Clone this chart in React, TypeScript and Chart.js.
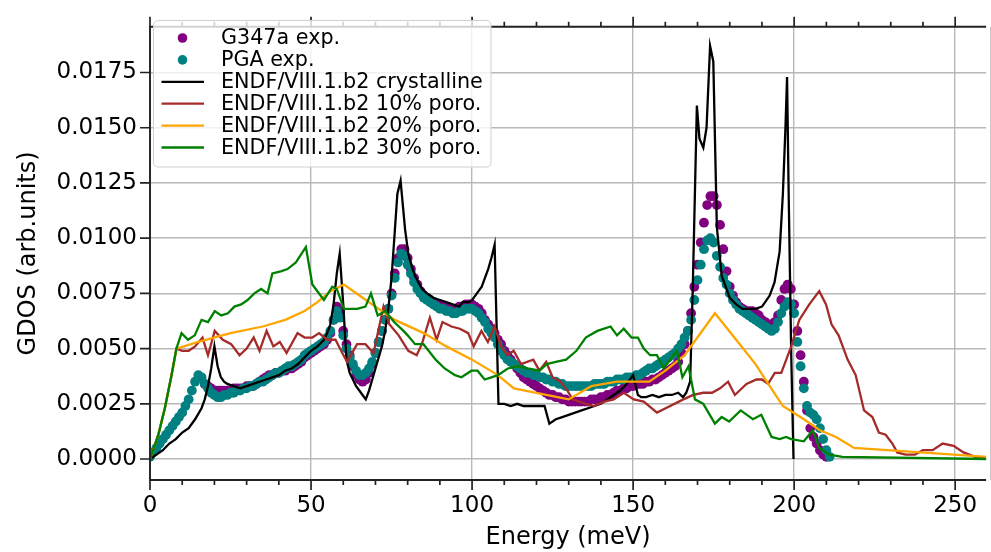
import React, { useEffect, useRef } from "react";
import { Chart, registerables } from "chart.js";

Chart.register(...registerables);

const FONT = "'DejaVu Sans', sans-serif";

// ---------------- data ----------------
const expEnergy = [
  0, 1, 2, 3, 4, 5, 6, 7, 8, 9,
  10, 11, 12, 13, 14, 15, 16, 17, 18, 19,
  20, 21, 22, 23, 24, 25, 26, 27, 28, 29,
  30, 31, 32, 33, 34, 35, 36, 37, 38, 39,
  40, 41, 42, 43, 44, 45, 46, 47, 48, 49,
  50, 51, 52, 53, 54, 55, 56, 57, 58, 59,
  60, 61, 62, 63, 64, 65, 66, 67, 68, 69,
  70, 71, 72, 73, 74, 75, 76, 77, 78, 79,
  80, 81, 82, 83, 84, 85, 86, 87, 88, 89,
  90, 91, 92, 93, 94, 95, 96, 97, 98, 99,
  100, 101, 102, 103, 104, 105, 106, 107, 108, 109,
  110, 111, 112, 113, 114, 115, 116, 117, 118, 119,
  120, 121, 122, 123, 124, 125, 126, 127, 128, 129,
  130, 131, 132, 133, 134, 135, 136, 137, 138, 139,
  140, 141, 142, 143, 144, 145, 146, 147, 148, 149,
  150, 151, 152, 153, 154, 155, 156, 157, 158, 159,
  160, 161, 162, 163, 164, 165, 166, 167, 168, 169,
  170, 171, 172, 173, 174, 175, 176, 177, 178, 179,
  180, 181, 182, 183, 184, 185, 186, 187, 188, 189,
  190, 191, 192, 193, 194, 195, 196, 197, 198, 199,
  200, 201, 202, 203, 204, 205, 206, 207, 208, 209,
  210, 211,
];

const g347aGdos = [
  null, null, null, null, null, null, null, null, null, null,
  null, null, null, null, null, null, null, 0.0034, 0.0033, 0.0032,
  0.0031, 0.0031, 0.0031, 0.0031, 0.0031, 0.0031, 0.0032, 0.0032, 0.0032, 0.0032,
  0.0033, 0.0033, 0.0033, 0.0034, 0.0035, 0.0036, 0.0037, 0.0038, 0.0038, 0.0039,
  0.0039, 0.004, 0.004, 0.0041, 0.0041, 0.0042, 0.0043, 0.0044, 0.0046, 0.0047,
  0.0048, 0.0049, 0.005, 0.0051, 0.0052, 0.0054, 0.0057, 0.0063, 0.0069, 0.0067,
  0.0058, 0.0052, 0.0047, 0.0042, 0.0038, 0.0036, 0.0035, 0.0036, 0.0039, 0.0043,
  0.0048, 0.0053, 0.0058, 0.0063, 0.0068, 0.0075, 0.0084, 0.0091, 0.0095, 0.0095,
  0.0091, 0.0086, 0.0082, 0.0079, 0.0076, 0.0074, 0.0073, 0.0072, 0.0071, 0.007,
  0.007, 0.0069, 0.0069, 0.0068, 0.0068, 0.0068, 0.0069, 0.0069, 0.007, 0.007,
  0.007, 0.0069, 0.0068, 0.0066, 0.0063, 0.0061, 0.0059, 0.0057, 0.0054, 0.0052,
  0.0049, 0.0047, 0.0045, 0.0043, 0.0041, 0.0039, 0.0037, 0.0036, 0.0035, 0.0034,
  0.0033, 0.0032, 0.0031, 0.003, 0.0029, 0.0029, 0.0028, 0.0028, 0.0027, 0.0027,
  0.0026, 0.0026, 0.0026, 0.0026, 0.0026, 0.0026, 0.0026, 0.0027, 0.0027, 0.0027,
  0.0028, 0.0028, 0.0029, 0.0029, 0.003, 0.0031, 0.0031, 0.0032, 0.0032, 0.0033,
  0.0033, 0.0034, 0.0034, 0.0034, 0.0035, 0.0035, 0.0036, 0.0036, 0.0037, 0.0038,
  0.0039, 0.004, 0.0041, 0.0042, 0.0044, 0.0048, 0.0052, 0.0058, 0.0066, 0.0078,
  0.0088, 0.0098, 0.0107, 0.0115, 0.0119, 0.0119, 0.0115, 0.0106, 0.0095, 0.0085,
  0.0078, 0.0074, 0.0071, 0.0069, 0.0068, 0.0067, 0.0067, 0.0067, 0.0066, 0.0065,
  0.0063, 0.0062, 0.0061, 0.0061, 0.0062, 0.0065, 0.0072, 0.0077, 0.0079, 0.0077,
  0.007, 0.0058, 0.0047, 0.0035, 0.0022, 0.0014, 0.001, 0.0007, 0.0004, 0.0002,
  0.0001, null,
];

const pgaGdos = [
  0.0001, 0.0003, 0.0005, 0.0007, 0.0009, 0.0011, 0.0013, 0.0015, 0.0017, 0.0019,
  0.0021, 0.0024, 0.0027, 0.0031, 0.0035, 0.0038, 0.0037, 0.0034, 0.0032, 0.003,
  0.0029, 0.0028, 0.0028, 0.0029, 0.0029, 0.003, 0.003, 0.0031, 0.0031, 0.0032,
  0.0032, 0.0033, 0.0033, 0.0034, 0.0035, 0.0035, 0.0036, 0.0037, 0.0038, 0.0039,
  0.0039, 0.004, 0.0041, 0.0042, 0.0042, 0.0043, 0.0044, 0.0045, 0.0047, 0.0048,
  0.0049, 0.005, 0.0051, 0.0052, 0.0053, 0.0055, 0.0058, 0.0063, 0.0067, 0.0064,
  0.0056, 0.005, 0.0046, 0.0043, 0.004, 0.0038, 0.0038, 0.0039, 0.0041, 0.0044,
  0.0048, 0.0053, 0.0058, 0.0063, 0.0068, 0.0074, 0.0082, 0.0089, 0.0093, 0.0092,
  0.0088, 0.0084, 0.008, 0.0077, 0.0075, 0.0073, 0.0072, 0.0071, 0.007, 0.0069,
  0.0068, 0.0068, 0.0067, 0.0067, 0.0066, 0.0066, 0.0067, 0.0067, 0.0068, 0.0068,
  0.0068, 0.0067, 0.0066, 0.0064, 0.0062, 0.0059, 0.0057, 0.0055, 0.0052, 0.0049,
  0.0047, 0.0045, 0.0044, 0.0043, 0.0042, 0.0041, 0.004, 0.0039, 0.0039, 0.0038,
  0.0038, 0.0037, 0.0037, 0.0036, 0.0036, 0.0035, 0.0035, 0.0034, 0.0034, 0.0033,
  0.0033, 0.0033, 0.0033, 0.0033, 0.0033, 0.0033, 0.0033, 0.0033, 0.0034, 0.0034,
  0.0034, 0.0034, 0.0035, 0.0035, 0.0035, 0.0036, 0.0036, 0.0036, 0.0037, 0.0037,
  0.0037, 0.0038, 0.0038, 0.0039, 0.004, 0.0041, 0.0041, 0.0042, 0.0043, 0.0044,
  0.0045, 0.0046, 0.0047, 0.0048, 0.005, 0.0052, 0.0055, 0.0058, 0.0063, 0.0072,
  0.0081, 0.0088, 0.0095, 0.0099, 0.01, 0.0098, 0.0092, 0.0087, 0.0082, 0.0079,
  0.0075, 0.0072, 0.007, 0.0068, 0.0067, 0.0066, 0.0065, 0.0064, 0.0063, 0.0062,
  0.0061, 0.006, 0.0059, 0.0058, 0.0059, 0.0062, 0.0066, 0.0069, 0.0071, 0.007,
  0.0066, 0.0053, 0.0042, 0.0032, 0.0024, 0.0021, 0.002, 0.0018, 0.0014, 0.0009,
  0.0004, 0.0001,
];

const crystEnergy = [
  0, 2, 4, 6, 8, 10, 12, 14, 16, 17, 18, 19, 20, 21, 22, 23, 24, 26, 28, 30,
  32, 34, 36, 38, 40, 42, 44, 46, 48, 50, 52, 54, 55, 56, 57, 58, 58.9, 60, 61, 62,
  64, 66, 67, 68, 70, 72, 73, 74, 75, 76, 76.8, 77.8, 79.2, 80.2, 81.3, 82.3, 83.3, 84.5, 86, 88,
  90, 92, 94, 96, 97, 99, 100, 101, 102, 103, 104, 105, 106, 107, 108.2, 110, 112, 114, 116, 118,
  120, 122.5, 124, 126, 128, 130, 132, 134, 136, 138, 140, 142, 144, 146, 148, 150, 151.5, 152.5, 154, 156,
  158, 160, 162, 164, 165.5, 166.5, 167.7, 168.5, 169.8, 170.6, 171.8, 172.8, 173.9, 174.9, 176, 177.5, 180, 182, 184, 186,
  188, 190, 191, 192.4, 193.9, 195.5, 196.5, 197.3, 197.8, 198.3, 199.1, 199.8,
];
const crystGdos = [
  0, 0.0002, 0.0004, 0.0007, 0.0009, 0.0012, 0.0014, 0.0018, 0.0023, 0.0027, 0.0033, 0.0041, 0.0051, 0.0042, 0.0037, 0.0035, 0.0034, 0.0033, 0.0032, 0.0033,
  0.0034, 0.0035, 0.0036, 0.0037, 0.0038, 0.004, 0.0041, 0.0043, 0.0046, 0.0049, 0.0051, 0.0054, 0.0057, 0.0061, 0.007, 0.0084, 0.0093, 0.007, 0.0045, 0.0039,
  0.0033, 0.0029, 0.0027, 0.0031, 0.0041, 0.0051, 0.0058, 0.0068, 0.0082, 0.0103, 0.012, 0.0126, 0.0104, 0.0093, 0.0087, 0.0083, 0.008, 0.0077, 0.0075, 0.0073,
  0.0072, 0.0071, 0.007, 0.0069, 0.0071, 0.0071, 0.0072, 0.0074, 0.0076, 0.0078, 0.0082, 0.0086, 0.0091, 0.0097, 0.0025, 0.0025, 0.0024, 0.0025, 0.0024, 0.0024,
  0.0024, 0.0024, 0.0016, 0.0018, 0.0019, 0.002, 0.0021, 0.0022, 0.0023, 0.0024, 0.0025, 0.0027, 0.0029, 0.0031, 0.0034, 0.0038, 0.0029, 0.0028, 0.0028, 0.0029,
  0.0028, 0.0029, 0.0029, 0.003, 0.0028, 0.003, 0.0035, 0.0076, 0.016, 0.0145, 0.0141, 0.015, 0.0187, 0.018, 0.0105, 0.0083, 0.0073, 0.007, 0.0068, 0.0068,
  0.0068, 0.0069, 0.0071, 0.0074, 0.008, 0.0094, 0.012, 0.015, 0.0173, 0.012, 0.0047, 0,
];

const poro10Energy = [
  0, 2.6, 4.6, 6.7, 8.2, 10, 12, 14, 16.3, 18, 20.1, 22.6, 25.2, 27.8, 30, 32.2, 34, 36.2, 38.3, 40.3,
  42.4, 45.8, 48, 50.4, 52.5, 55, 57.6, 59.7, 61.2, 63.5, 64.3, 66.9, 69.4, 72.5, 74.3, 77.2, 80.2, 82.8, 84.4, 86.9,
  89, 90.8, 93.6, 96.2, 98.8, 100.5, 102.9, 104.9, 107, 109, 111, 112.9, 115.2, 119, 120.9, 123, 125, 127.5, 129.6, 131.2,
  135.3, 137.9, 141, 144, 147.1, 150.2, 153.3, 157.4, 161.5, 165.6, 168.7, 171.8, 174.5, 177, 179.5, 181.6, 185.2, 188.3, 190, 191.9,
  194, 196, 199.1, 201.6, 204.7, 207.8, 209.9, 211.6, 213.8, 216.6, 219.1, 221.7, 224.3, 226.3, 228.4, 230.5, 232, 234.6, 237.5, 240,
  243, 246.1, 249.5, 252.6, 256.2, 260,
];
const poro10Gdos = [
  0, 0.0011, 0.0023, 0.0038, 0.005, 0.0049, 0.0049, 0.0051, 0.0055, 0.0047, 0.0058, 0.0054, 0.0052, 0.0047, 0.005, 0.0055, 0.0049, 0.0058, 0.0051, 0.0053,
  0.0048, 0.0057, 0.0055, 0.0055, 0.0057, 0.0054, 0.0054, 0.0048, 0.0044, 0.005, 0.0052, 0.0052, 0.0048, 0.0069, 0.0061, 0.0056, 0.0049, 0.0047, 0.0052, 0.0064,
  0.0054, 0.0062, 0.006, 0.0059, 0.0057, 0.0051, 0.0058, 0.0053, 0.006, 0.0051, 0.0047, 0.0049, 0.0043, 0.0045, 0.004, 0.0044, 0.0037, 0.0035, 0.0031, 0.0027,
  0.0025, 0.0024, 0.0026, 0.0027, 0.003, 0.0027, 0.0026, 0.0021, 0.0024, 0.0027, 0.0029, 0.003, 0.003, 0.0032, 0.0035, 0.0029, 0.0034, 0.0036, 0.0036, 0.0034,
  0.0039, 0.0039, 0.0051, 0.0063, 0.007, 0.0076, 0.007, 0.0061, 0.0056, 0.0045, 0.0038, 0.0022, 0.0019, 0.0012, 0.0011, 0.0007, 0.0003, 0.0002, 0.0002, 0.0004,
  0.0004, 0.0007, 0.0006, 0.0003, 0.0001, 0,
];

const poro20Energy = [
  0, 2.6, 4.6, 6.7, 8.2, 15, 25, 35, 42, 48, 52, 56, 60.2, 68, 76, 85, 92, 100, 108, 113,
  130, 137, 145, 155, 160, 166, 175.4, 182, 188, 191.5, 196.5, 203, 208, 213, 218.6, 260,
];
const poro20Gdos = [
  0, 0.0011, 0.0023, 0.0038, 0.005, 0.0053, 0.0057, 0.006, 0.0063, 0.0067, 0.0071, 0.0076, 0.0079, 0.0071, 0.0063, 0.0057, 0.0051, 0.0045, 0.0038, 0.0032,
  0.0027, 0.0033, 0.0035, 0.0035, 0.004, 0.0047, 0.0066, 0.0054, 0.0043, 0.0035, 0.0024, 0.0018, 0.0013, 0.001, 0.0005, 0.0001,
];

const poro30Energy = [
  0, 2.6, 4.6, 6.7, 8.2, 9.8, 11.8, 13.9, 16, 18, 20.1, 22.1, 24.2, 26.2, 28.3, 30.3, 32.4, 34.5, 36.5, 38,
  40.6, 42.7, 45.3, 48.4, 50.4, 54, 56.6, 58, 60.2, 64.3, 66.9, 68.6, 70.7, 73, 75.8, 78.7, 80, 82.3, 84.9, 88.7,
  91.5, 94.7, 96.7, 99.8, 101.7, 103.9, 106, 108, 111.1, 114.2, 117.3, 120.9, 123.2, 126, 129.2, 132.4, 135.3, 138.9, 143, 145,
  147.1, 149.5, 151.5, 153.3, 155.3, 157.4, 159.5, 161.5, 163.6, 165.3, 167.2, 169.2, 171.8, 175.4, 177.5, 179.8, 183.4, 187.2, 189.8, 193,
  195.5, 197.5, 199.1, 203, 205.8, 207.8, 210.9, 215, 260,
];
const poro30Gdos = [
  0, 0.0011, 0.0023, 0.0038, 0.005, 0.0057, 0.0054, 0.0056, 0.0063, 0.0062, 0.0067, 0.0065, 0.0066, 0.0069, 0.007, 0.0072, 0.0075, 0.0077, 0.0075, 0.0084,
  0.0085, 0.0086, 0.0089, 0.0096, 0.0079, 0.0072, 0.0078, 0.0077, 0.0068, 0.0068, 0.0069, 0.0075, 0.0065, 0.0067, 0.0062, 0.0058, 0.0056, 0.0052, 0.0052, 0.0045,
  0.0041, 0.0038, 0.0037, 0.004, 0.004, 0.0036, 0.0037, 0.0038, 0.0041, 0.0042, 0.0041, 0.004, 0.0043, 0.0044, 0.0045, 0.0049, 0.0055, 0.0058, 0.006, 0.0056,
  0.0059, 0.0055, 0.0055, 0.005, 0.0047, 0.0047, 0.0041, 0.0045, 0.0049, 0.0037, 0.0042, 0.0027, 0.0025, 0.0016, 0.0019, 0.0017, 0.0022, 0.0018, 0.002, 0.001,
  0.0009, 0.001, 0.0009, 0.0008, 0.0013, 0.0005, 0.0002, 0.0001, 0,
];

const xMajorTicks = [0, 50, 100, 150, 200, 250];
const xMinorTicks = [10, 20, 30, 40, 60, 70, 80, 90, 110, 120, 130, 140, 160, 170, 180, 190, 210, 220, 230, 240];
const yTicks = [0, 0.0025, 0.005, 0.0075, 0.01, 0.0125, 0.015, 0.0175];

const seriesLabels = [
  "G347a exp.",
  "PGA exp.",
  "ENDF/VIII.1.b2 crystalline",
  "ENDF/VIII.1.b2 10% poro.",
  "ENDF/VIII.1.b2 20% poro.",
  "ENDF/VIII.1.b2 30% poro.",
];
const seriesColors = ["#800080", "#008080", "#000000", "#a52a2a", "#ffa500", "#008000"];
const seriesKinds = ["dot", "dot", "line", "line", "line", "line"];

const toPoints = (xs: number[], ys: (number | null)[]) => xs.map((x, i) => ({ x, y: ys[i] }));

const mplPlugin = {
  id: "mplDecor",
  afterDraw(chart: any) {
    const { ctx, chartArea: a, scales } = chart;
    const xs = scales.x;
    const ys = scales.y;
    ctx.save();
    ctx.strokeStyle = "#c8c8c8";
    ctx.lineWidth = 1;
    ctx.beginPath();
    ctx.moveTo(990.5, a.top);
    ctx.lineTo(990.5, a.bottom);
    ctx.stroke();

    ctx.strokeStyle = "#222";
    ctx.lineWidth = 1.7;
    ctx.beginPath();
    xMajorTicks.forEach((v) => {
      const p = xs.getPixelForValue(v);
      ctx.moveTo(p, a.bottom);
      ctx.lineTo(p, a.bottom + 10);
      ctx.moveTo(p, a.top);
      ctx.lineTo(p, a.top - 10);
    });
    xMinorTicks.forEach((v) => {
      const p = xs.getPixelForValue(v);
      ctx.moveTo(p, a.bottom);
      ctx.lineTo(p, a.bottom + 5);
      ctx.moveTo(p, a.top);
      ctx.lineTo(p, a.top - 5);
    });
    yTicks.forEach((v) => {
      const p = ys.getPixelForValue(v);
      ctx.moveTo(a.left, p);
      ctx.lineTo(a.left - 10, p);
    });
    ctx.stroke();
    ctx.lineWidth = 1.9;
    ctx.beginPath();
    ctx.moveTo(a.right, a.top);
    ctx.lineTo(a.left, a.top);
    ctx.lineTo(a.left, a.bottom);
    ctx.lineTo(a.right, a.bottom);
    ctx.stroke();

    // legend
    const bx = 153.5, by = 20.5, bw = 337.5, bh = 146.5, r = 5;
    ctx.beginPath();
    ctx.moveTo(bx + r, by);
    ctx.lineTo(bx + bw - r, by);
    ctx.quadraticCurveTo(bx + bw, by, bx + bw, by + r);
    ctx.lineTo(bx + bw, by + bh - r);
    ctx.quadraticCurveTo(bx + bw, by + bh, bx + bw - r, by + bh);
    ctx.lineTo(bx + r, by + bh);
    ctx.quadraticCurveTo(bx, by + bh, bx, by + bh - r);
    ctx.lineTo(bx, by + r);
    ctx.quadraticCurveTo(bx, by, bx + r, by);
    ctx.closePath();
    ctx.fillStyle = "rgba(255,255,255,0.8)";
    ctx.fill();
    ctx.strokeStyle = "#d0d0d0";
    ctx.lineWidth = 1;
    ctx.stroke();

    ctx.font = `20.7px ${FONT}`;
    ctx.textBaseline = "middle";
    ctx.textAlign = "left";
    seriesLabels.forEach((label, i) => {
      const cy = 38 + i * 21.9;
      if (seriesKinds[i] === "dot") {
        ctx.fillStyle = seriesColors[i];
        ctx.beginPath();
        ctx.arc(182.5, cy, 4.8, 0, Math.PI * 2);
        ctx.fill();
      } else {
        ctx.strokeStyle = seriesColors[i];
        ctx.lineWidth = 2.3;
        ctx.beginPath();
        ctx.moveTo(161.5, cy);
        ctx.lineTo(204, cy);
        ctx.stroke();
      }
      ctx.fillStyle = "#000";
      ctx.fillText(label, 221, cy + 1);
    });
    ctx.restore();
  },
};

export default function App() {
  const ref = useRef<HTMLCanvasElement>(null);
  useEffect(() => {
    document.body.style.margin = "0";
    const dot = (i: number, ys: (number | null)[], order: number) => ({
      label: seriesLabels[i],
      data: toPoints(expEnergy, ys),
      showLine: false,
      pointRadius: 4.9,
      pointBorderWidth: 0,
      pointBackgroundColor: seriesColors[i],
      order,
    });
    const line = (i: number, xs: number[], ys: number[], order: number) => ({
      label: seriesLabels[i],
      data: toPoints(xs, ys),
      showLine: true,
      borderColor: seriesColors[i],
      borderWidth: 2.3,
      pointRadius: 0,
      order,
    });
    const datasets: any[] = [
      dot(0, g347aGdos, 5),
      dot(1, pgaGdos, 4),
      line(2, crystEnergy, crystGdos, 3),
      line(3, poro10Energy, poro10Gdos, 2),
      line(4, poro20Energy, poro20Gdos, 1),
      line(5, poro30Energy, poro30Gdos, 0),
    ];
    const chart = new Chart(ref.current as HTMLCanvasElement, {
      type: "scatter",
      data: { datasets },
      options: {
        responsive: false,
        animation: false,
        devicePixelRatio: 1,
        layout: { padding: { top: 16.5, left: 0, right: 0, bottom: 0 } },
        plugins: { legend: { display: false }, tooltip: { enabled: false } },
        scales: {
          x: {
            type: "linear",
            min: 0,
            max: 259.6,
            afterBuildTicks: (s: any) => {
              s.ticks = xMajorTicks.map((v) => ({ value: v }));
            },
            afterFit: (s: any) => {
              s.height = 72;
            },
            ticks: {
              font: { family: FONT, size: 23 },
              color: "#000",
              padding: 12,
              maxRotation: 0,
              autoSkip: false,
            },
            grid: { color: "#b8b8b8", lineWidth: 1.4, drawTicks: false },
            border: { display: false },
            title: {
              display: true,
              text: "Energy (meV)",
              color: "#000",
              font: { family: FONT, size: 24 },
              padding: { top: 0, bottom: 0 },
            },
          },
          y: {
            type: "linear",
            min: -0.00095,
            max: 0.01957,
            afterBuildTicks: (s: any) => {
              s.ticks = yTicks.map((v) => ({ value: v }));
            },
            afterFit: (s: any) => {
              s.width = 150;
            },
            ticks: {
              font: { family: FONT, size: 23 },
              color: "#000",
              padding: 13,
              callback: (v: any) => Number(v).toFixed(4),
            },
            grid: { color: "#b8b8b8", lineWidth: 1.4, drawTicks: false },
            border: { display: false },
            title: {
              display: true,
              text: "GDOS (arb.units)",
              color: "#000",
              font: { family: FONT, size: 24 },
              padding: { top: 14, bottom: 0 },
            },
          },
        },
      },
      plugins: [mplPlugin],
    } as any);
    return () => chart.destroy();
  }, []);
  return (
    <canvas
      ref={ref}
      width={991}
      height={552}
      style={{ display: "block", width: 991, height: 552 }}
    />
  );
}
